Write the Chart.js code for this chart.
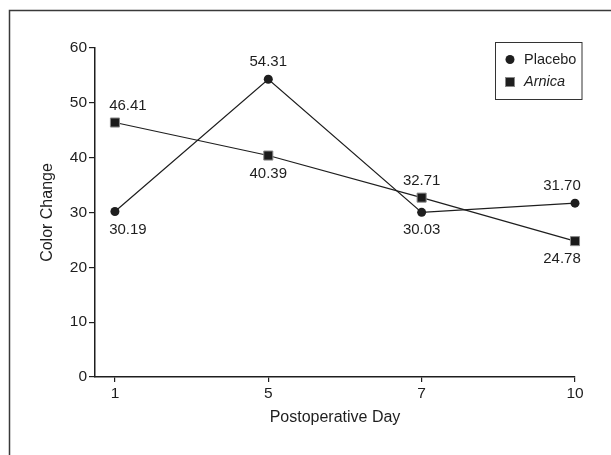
<!DOCTYPE html>
<html>
<head>
<meta charset="utf-8">
<script src="https://cdn.jsdelivr.net/npm/chart.js@4/dist/chart.umd.min.js"></script>
<style>
    html, body { margin: 0; padding: 0; background: #fff; }
    #wrap { width: 611px; height: 455px; }
</style>
</head>
<body>
<div id="wrap"><canvas id="colorChart"></canvas></div>
<script>
// Data
const days = ['1', '5', '7', '10'];
const placebo = [30.19, 54.31, 30.03, 31.70];
const arnica = [46.41, 40.39, 32.71, 24.78];
const yTicks = [0, 10, 20, 30, 40, 50, 60];

// Theme
const FONT = "'Liberation Sans', Arial, sans-serif";
const INK = '#1e1e1e';

// Frame around the whole figure (runs off the right and bottom edges)
const framePlugin = {
    id: 'frame',
    beforeDraw(chart) {
        const ctx = chart.ctx;
        ctx.save();
        ctx.strokeStyle = '#3a3a3a';
        ctx.lineWidth = 1.5;
        ctx.strokeRect(9.5, 10.5, chart.width + 20, chart.height + 20);
        ctx.restore();
    }
};

// Value labels above/below each point
const valueLabels = {
    id: 'valueLabels',
    afterDatasetsDraw(chart) {
        const ctx = chart.ctx;
        const sets = chart.data.datasets;
        ctx.save();
        ctx.font = '15px ' + FONT;
        ctx.fillStyle = INK;
        ctx.textAlign = 'center';
        ctx.textBaseline = 'middle';
        sets.forEach((ds, d) => {
            const other = sets[1 - d].data;
            chart.getDatasetMeta(d).data.forEach((pt, i) => {
                const v = ds.data[i].y;
                const above = v > other[i].y;
                let dx = 0;
                if (i === 0) dx = 13;
                if (i === ds.data.length - 1) dx = -13;
                const y = above ? pt.y - 17 : pt.y + 18;
                ctx.fillText(v.toFixed(2), pt.x + dx, y);
            });
        });
        ctx.restore();
    }
};

// Boxed legend, top right
const boxLegend = {
    id: 'boxLegend',
    afterDraw(chart) {
        const ctx = chart.ctx;
        ctx.save();
        ctx.strokeStyle = '#333';
        ctx.lineWidth = 1;
        ctx.strokeRect(495.5, 42.5, 86.5, 57);

        ctx.fillStyle = INK;
        ctx.beginPath();
        ctx.arc(510, 59.5, 4.5, 0, Math.PI * 2);
        ctx.fill();

        ctx.fillRect(505.5, 77.5, 9, 9);
        ctx.strokeStyle = '#888';
        ctx.strokeRect(505.5, 77.5, 9, 9);

        ctx.fillStyle = INK;
        ctx.textAlign = 'left';
        ctx.textBaseline = 'middle';
        ctx.font = '14.5px ' + FONT;
        ctx.fillText('Placebo', 524, 60);
        ctx.font = 'italic 14.5px ' + FONT;
        ctx.fillText('Arnica', 524, 82);
        ctx.restore();
    }
};

function toPoints(values) {
    return values.map((v, i) => ({ x: i, y: v }));
}

const ctx = document.getElementById('colorChart').getContext('2d');
new Chart(ctx, {
    type: 'line',
    data: {
        datasets: [{
            label: 'Placebo',
            data: toPoints(placebo),
            borderColor: INK,
            borderWidth: 1.2,
            pointStyle: 'circle',
            pointRadius: 4.5,
            pointBackgroundColor: INK,
            pointBorderColor: INK,
            pointBorderWidth: 0,
            clip: false
        }, {
            label: 'Arnica',
            data: toPoints(arnica),
            borderColor: INK,
            borderWidth: 1.2,
            pointStyle: 'rect',
            pointRadius: 6.4,
            pointBackgroundColor: '#1a1a1a',
            pointBorderColor: '#888',
            pointBorderWidth: 1,
            clip: false
        }]
    },
    options: {
        responsive: true,
        maintainAspectRatio: false,
        animation: false,
        layout: { padding: { top: 48, right: 36, bottom: 18, left: 0 } },
        plugins: {
            legend: { display: false },
            tooltip: { enabled: false }
        },
        scales: {
            x: {
                type: 'linear',
                min: -0.13,
                max: days.length - 1,
                afterFit(s) { s.height = 60; },
                afterBuildTicks(s) { s.ticks = days.map((_, i) => ({ value: i })); },
                grid: { drawOnChartArea: false, drawTicks: true, tickLength: 5, color: INK, lineWidth: 1.2 },
                border: { display: true, color: INK, width: 1.5 },
                ticks: {
                    padding: 2,
                    color: INK,
                    font: { family: FONT, size: 15.5 },
                    callback: (value) => days[value]
                },
                title: {
                    display: true,
                    text: 'Postoperative Day',
                    color: INK,
                    font: { family: FONT, size: 16 },
                    padding: { top: 0, bottom: 9.4 }
                }
            },
            y: {
                min: yTicks[0],
                max: yTicks[yTicks.length - 1],
                afterFit(s) { s.width = 95; },
                afterBuildTicks(s) { s.ticks = yTicks.map(v => ({ value: v })); },
                grid: { drawOnChartArea: false, drawTicks: true, tickLength: 6, color: INK, lineWidth: 1.2 },
                border: { display: true, color: INK, width: 1.5 },
                ticks: {
                    padding: 2,
                    color: INK,
                    font: { family: FONT, size: 15.5 }
                },
                title: {
                    display: true,
                    text: 'Color Change',
                    color: INK,
                    font: { family: FONT, size: 16 },
                    padding: { top: 38, bottom: 0 }
                }
            }
        }
    },
    plugins: [framePlugin, valueLabels, boxLegend]
});
</script>
</body>
</html>
